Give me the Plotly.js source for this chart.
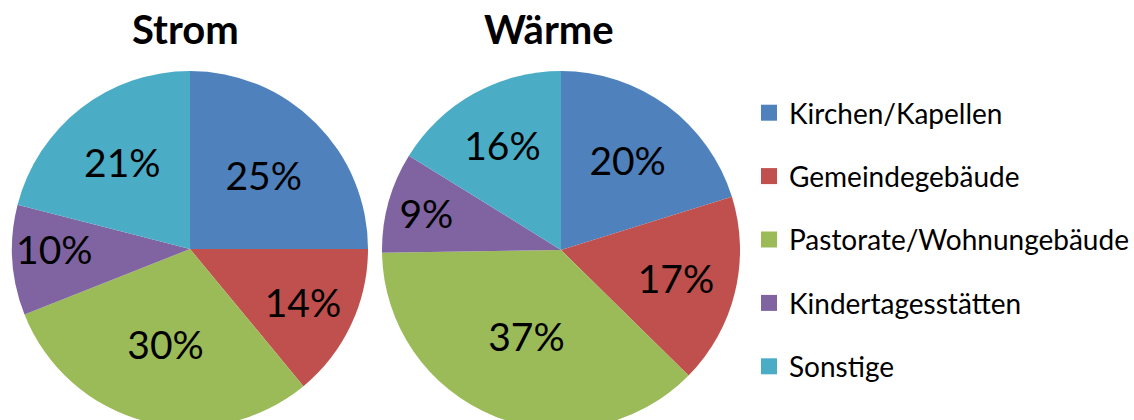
<!DOCTYPE html>
<html><head><meta charset="utf-8">
<script src="https://cdn.plot.ly/plotly-3.0.1.min.js"></script>
<style>html,body{margin:0;padding:0;overflow:hidden;background:#fff;width:1134px;height:420px}</style>
</head><body><div id="chart"></div>
<script>
const categories = ["Kirchen/Kapellen","Gemeindegebäude","Pastorate/Wohnungebäude","Kindertagesstätten","Sonstige"];
const stromValues = [25,14,30,10,21];
const waermeValues = [20,17,37,9,16];
const chartTitles = ["Strom","Wärme"];
const colors = ["#4F81BD","#C0504D","#9BBB59","#8064A2","#4BACC6"];

const W = 1134, H = 440;
const font = "Lato, 'Noto Sans', sans-serif";
function pie(values, x0, x1, yTop, yBot){
  return {type:'pie', values:values, labels:categories, sort:false, direction:'clockwise', rotation:0,
    marker:{colors:colors, line:{width:0}},
    texttemplate:'%{percent:.0%}', textposition:'inside', insidetextorientation:'horizontal',
    textfont:{family:font, size:39, color:'#000'}, showlegend:false, hoverinfo:'label+percent',
    domain:{x:[x0/W, x1/W], y:[1-yBot/H, 1-yTop/H]}};
}
const traces = [pie(stromValues,12,368,71,427), pie(waermeValues,382,740,71,429)];
categories.forEach((c,i)=>traces.push({type:'scatter', x:[null], y:[null], mode:'markers', name:c,
  legendgroup:'g'+i, marker:{symbol:'square', size:19, color:colors[i]}, showlegend:true, hoverinfo:'skip'}));

const layout = {width:W, height:H, margin:{l:0,r:0,t:0,b:0}, paper_bgcolor:'#fff', plot_bgcolor:'#fff',
  xaxis:{visible:false}, yaxis:{visible:false},
  legend:{x:749/W, xanchor:'left', y:1-88/H, yanchor:'top', tracegroupgap:24, font:{family:font, size:28, color:'#000'}, bgcolor:'rgba(0,0,0,0)'},
  annotations:[
    {text:'<b>'+chartTitles[0]+'</b>', x:185.5/W, y:1-29/H, xref:'paper', yref:'paper', xanchor:'center', yanchor:'middle', showarrow:false, font:{family:font, size:40, color:'#000'}},
    {text:'<b>'+chartTitles[1]+'</b>', x:549/W, y:1-29/H, xref:'paper', yref:'paper', xanchor:'center', yanchor:'middle', showarrow:false, font:{family:font, size:40, color:'#000'}}
  ]};
Plotly.newPlot('chart', traces, layout, {displayModeBar:false, staticPlot:true});
</script></body></html>
